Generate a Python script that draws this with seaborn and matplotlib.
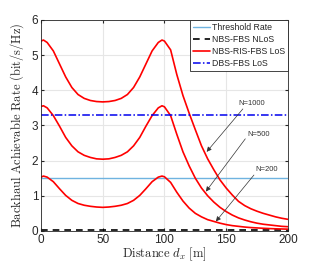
import numpy as np
import pandas as pd
import matplotlib
matplotlib.use("Agg")
import matplotlib.pyplot as plt
import seaborn as sns

# distancia d_x [m]
distance = [0, 2, 5, 10, 15, 20, 25, 30, 35, 40, 45, 50, 55, 60, 65, 70, 75, 80, 85, 90, 95, 98,
            100, 105, 110, 115, 120, 125, 130, 135, 140, 145, 150, 155, 160, 165, 170, 175, 180,
            185, 190, 195, 200]

# NBS-RIS-FBS LoS para N=1000, 500, 200
rate_n1000 = [5.40, 5.43, 5.36, 5.12, 4.75, 4.38, 4.08, 3.88, 3.77, 3.71, 3.68, 3.67, 3.68, 3.71,
              3.77, 3.88, 4.08, 4.38, 4.75, 5.12, 5.36, 5.43,
              5.40, 5.15, 4.45, 3.85, 3.35, 2.88, 2.42, 2.05, 1.74, 1.45, 1.22, 1.02, 0.84, 0.72,
              0.63, 0.56, 0.50, 0.45, 0.40, 0.36, 0.33]
rate_n500 = [3.54, 3.56, 3.50, 3.28, 2.98, 2.66, 2.42, 2.25, 2.15, 2.09, 2.05, 2.04, 2.05, 2.09,
             2.15, 2.25, 2.42, 2.66, 2.98, 3.28, 3.50, 3.56,
             3.53, 3.28, 2.75, 2.25, 1.85, 1.50, 1.22, 1.00, 0.82, 0.67, 0.55, 0.45, 0.37, 0.31,
             0.26, 0.22, 0.19, 0.17, 0.15, 0.13, 0.12]
rate_n200 = [1.53, 1.56, 1.53, 1.40, 1.20, 1.01, 0.87, 0.78, 0.73, 0.70, 0.68, 0.67, 0.68, 0.70,
             0.73, 0.78, 0.87, 1.01, 1.20, 1.40, 1.53, 1.56,
             1.54, 1.38, 1.10, 0.85, 0.65, 0.50, 0.40, 0.32, 0.27, 0.22, 0.18, 0.15, 0.13, 0.11,
             0.095, 0.085, 0.075, 0.067, 0.06, 0.055, 0.05]

threshold_rate = 1.5
nlos_rate = 0.02
dbs_rate = 3.3

labels_n = ["N=1000", "N=500", "N=200"]

sns.set_style("whitegrid")
plt.rcParams["font.family"] = ["Liberation Sans", "DejaVu Sans"]
plt.rcParams["mathtext.fontset"] = "cm"

fig = plt.figure(figsize=(3.19, 2.63), dpi=100)
ax = fig.add_axes([0.1285, 0.122, 0.774, 0.802])

n = len(distance)
sns.lineplot(x=distance, y=[threshold_rate] * n, ax=ax, color="#6fb3e0", lw=1.0,
             label="Threshold Rate")
sns.lineplot(x=distance, y=[nlos_rate] * n, ax=ax, color="black", lw=1.2,
             linestyle=(0, (4, 3)), label="NBS-FBS NLoS")
for i, serie in enumerate([rate_n1000, rate_n500, rate_n200]):
    sns.lineplot(x=distance, y=serie, ax=ax, color="red", lw=1.2,
                 label="NBS-RIS-FBS LoS" if i == 0 else None)
sns.lineplot(x=distance, y=[dbs_rate] * n, ax=ax, color="#0000ee", lw=1.1,
             linestyle=(0, (5, 1.5, 1, 1.5)), label="DBS-FBS LoS")

# anotaciones con flechas
posiciones = [((170.5, 3.63), (163.5, 3.47), (134.2, 2.25)),
              ((176.5, 2.73), (165.5, 2.62), (133.6, 1.12)),
              ((182.5, 1.75), (172.5, 1.59), (141.7, 0.27))]
for txt, (pt, p0, p1) in zip(labels_n, posiciones):
    ax.text(pt[0], pt[1], txt, fontsize=5.5, ha="center", va="center", color="#333333")
    ax.annotate("", xy=p1, xytext=p0,
                arrowprops=dict(arrowstyle="-|>", color="#333333", lw=0.5,
                                mutation_scale=7, shrinkA=0, shrinkB=0))

ax.set_xlim(0, 200)
ax.set_ylim(0, 6)
ax.set_xticks([0, 50, 100, 150, 200])
ax.set_yticks([0, 1, 2, 3, 4, 5, 6])
ax.tick_params(direction="in", length=2.5, labelsize=8.5, colors="#262626", pad=2,
               left=True, bottom=True, right=True, top=True)
ax.grid(True, color="#e6e6e6", lw=0.8)
for s in ax.spines.values():
    s.set_color("#262626")
    s.set_linewidth(0.6)

ax.set_xlabel(r"$\mathrm{Distance}\ d_x\ \mathrm{[m]}$", fontsize=9, labelpad=0)
ax.set_ylabel(r"$\mathrm{Backhaul\ Achievable\ Rate\ (bit/s/Hz)}$", fontsize=9, labelpad=4)

leg = ax.legend(loc="upper right", fontsize=6.3, handlelength=2.0, handletextpad=0.15,
                borderpad=0.35, labelspacing=0.35, borderaxespad=0.0, frameon=True,
                fancybox=False, framealpha=1)
leg.get_frame().set_edgecolor("#262626")
leg.get_frame().set_linewidth(0.6)

fig.savefig("out.png", dpi=100)
